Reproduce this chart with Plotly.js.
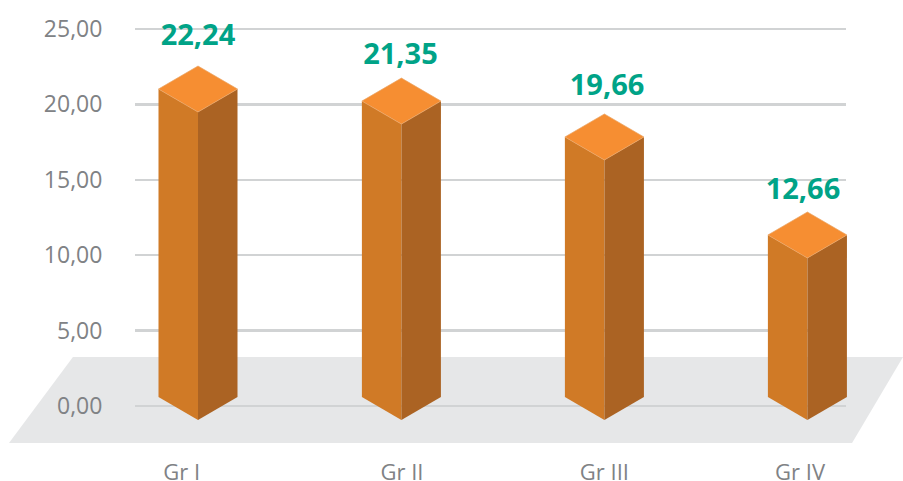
<!DOCTYPE html>
<html>
<head>
<meta charset="utf-8">
<script src="https://cdn.plot.ly/plotly-3.0.1.min.js"></script>
<style>html,body{margin:0;padding:0;background:#fff}#c{width:903px;height:481px}</style>
</head>
<body>
<div id="c"></div>
<script>
// Data
const categories = ["Gr I", "Gr II", "Gr III", "Gr IV"];
const printedValues = [22.24, 21.35, 19.66, 12.66];
// bar top centre as read against the picture's own axis (the drawn bars do not equal the printed values)
const drawnTops = [21.02, 20.22, 17.84, 11.34];
const yTicks = [0, 5, 10, 15, 20, 25];

// Label placement, in axis units
const labelX = [0, 0.9975, 2.015, 2.98];
const labelY = [24.42, 23.16, 21.1, 14.21];
const catLabelX = [-0.08, 1.005, 2.002, 2.966];

// Bar geometry in axis units
const barHalf = 0.1946, barDepth = 1.525, barBase = 0.6;
const barX = [0, 1.002, 2.002, 3.002];

// Floor polygon in axis units
const floorX = [-0.616, 3.473, 3.222, -0.931];
const floorY = [3.25, 3.25, -2.45, -2.45];

const COL = {left: "#d07a26", right: "#ab6323", top: "#f68e32", floor: "#e6e7e8",
             grid: "#d1d3d4", tick: "#808285", label: "#00a387"};

const xFull = [-198 / 203, 705 / 203];
const yFull = [-75 / 15.08, 406 / 15.08];

function poly(xs, ys, color, ax, edge) {
  return {type: "scatter", mode: "lines", x: xs.concat(xs[0]), y: ys.concat(ys[0]),
    fill: "toself", fillcolor: color, line: {width: edge ? 0.7 : 0, color: edge || color},
    hoverinfo: "skip", showlegend: false, xaxis: ax[0], yaxis: ax[1]};
}

const traces = [];
traces.push(poly(floorX, floorY, COL.floor, ["x", "y"]));
// invisible trace that holds the grid / axis subplot
traces.push({type: "scatter", mode: "markers", x: [0], y: [0], marker: {opacity: 0},
  hoverinfo: "skip", showlegend: false, xaxis: "x2", yaxis: "y2"});

const A3 = ["x3", "y3"];
barX.forEach((cx, i) => {
  const t = drawnTops[i], l = cx - barHalf, r = cx + barHalf;
  traces.push(poly([l, cx, cx, l], [t, t - barDepth, barBase - barDepth, barBase], COL.left, A3));
  traces.push(poly([cx, r, r, cx], [t - barDepth, t, barBase, barBase - barDepth], COL.right, A3));
  traces.push(poly([l, cx, r, cx], [t, t + barDepth, t, t - barDepth], COL.top, A3, "#e9a566"));
});
traces.push({type: "scatter", mode: "text", x: labelX, y: labelY,
  text: printedValues.map(v => v.toFixed(2).replace(".", ",")),
  textposition: "middle center", cliponaxis: false,
  textfont: {family: "Open Sans", size: 29, color: COL.label, weight: 700},
  hoverinfo: "skip", showlegend: false, xaxis: "x3", yaxis: "y3"});

const hidden = {visible: false, fixedrange: true};
const layout = {
  width: 903, height: 481, margin: {l: 0, r: 0, t: 0, b: 0},
  paper_bgcolor: "#fff", plot_bgcolor: "rgba(0,0,0,0)", showlegend: false,
  separators: ",.",
  xaxis: Object.assign({}, hidden, {domain: [0, 1], range: xFull, anchor: "y"}),
  yaxis: Object.assign({}, hidden, {domain: [0, 1], range: yFull, anchor: "x"}),
  xaxis2: {domain: [135 / 903, 846 / 903], range: [(135 - 198) / 203, (846 - 198) / 203],
    anchor: "free", position: 1 - 457 / 481, fixedrange: true,
    showgrid: false, zeroline: false, showline: false, ticks: "",
    tickmode: "array", tickvals: catLabelX, ticktext: categories, tickangle: 0,
    tickfont: {family: "Open Sans", size: 22, color: COL.tick}},
  yaxis2: {domain: [0, 1], range: yFull, anchor: "x2", fixedrange: true,
    zeroline: false, showline: false,
    showgrid: true, gridcolor: COL.grid, gridwidth: 2.5,
    tickmode: "array", tickvals: yTicks, tickformat: ".2f",
    ticks: "outside", ticklen: 27, tickcolor: "rgba(0,0,0,0)",
    tickfont: {family: "Open Sans", size: 23, color: COL.tick}},
  xaxis3: Object.assign({}, hidden, {domain: [0, 1], range: xFull, anchor: "y3"}),
  yaxis3: Object.assign({}, hidden, {domain: [0, 1], range: yFull, anchor: "x3"})
};
Plotly.newPlot("c", traces, layout, {displayModeBar: false, staticPlot: true});
</script>
</body>
</html>
